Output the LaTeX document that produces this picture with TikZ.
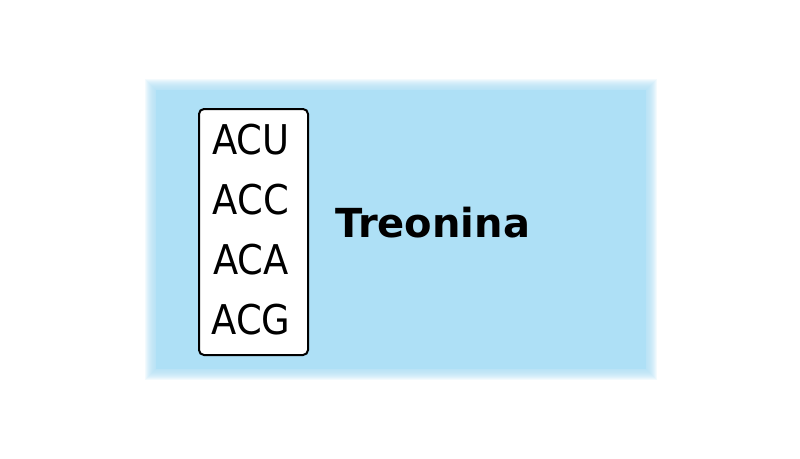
\documentclass[tikz,border=0pt]{standalone}
\usepackage{fontspec}
\setmainfont{DejaVu Sans}
\newfontfamily\condfont{DejaVu Sans Condensed}
\definecolor{bgblue}{RGB}{174,224,246}
\begin{document}
\begin{tikzpicture}[x=1pt,y=-1pt,
  codon/.style={anchor=base,inner sep=0pt,font=\condfont\fontsize{41}{44}\selectfont},
  title/.style={anchor=base west,inner sep=0pt,font=\fontsize{40}{44}\selectfont\bfseries}]
\useasboundingbox (0,0) rectangle (800,458);
\fill[white] (0,0) rectangle (800,458);
% blurred blue background
\foreach \d in {0,1,...,11}{
  \fill[bgblue,opacity=0.14] (150-5+\d,84-5+\d) rectangle (652+5-\d,375+5-\d);
}
\fill[bgblue] (150+6,84+6) rectangle (652-6,375-6);
\node[draw=black,line width=2pt,rounded corners=5pt,fill=white,minimum width=109pt,minimum height=246pt,inner sep=0pt] (box) at (253.5,232) {};
\node[codon] (c1) at (251,154) {ACU};
\node[codon] (c2) at (251,214) {ACC};
\node[codon] (c3) at (251,274) {ACA};
\node[codon] (c4) at (251,334) {ACG};
\node[title] (t) at (335,237) {Treonina};
\end{tikzpicture}
\end{document}
